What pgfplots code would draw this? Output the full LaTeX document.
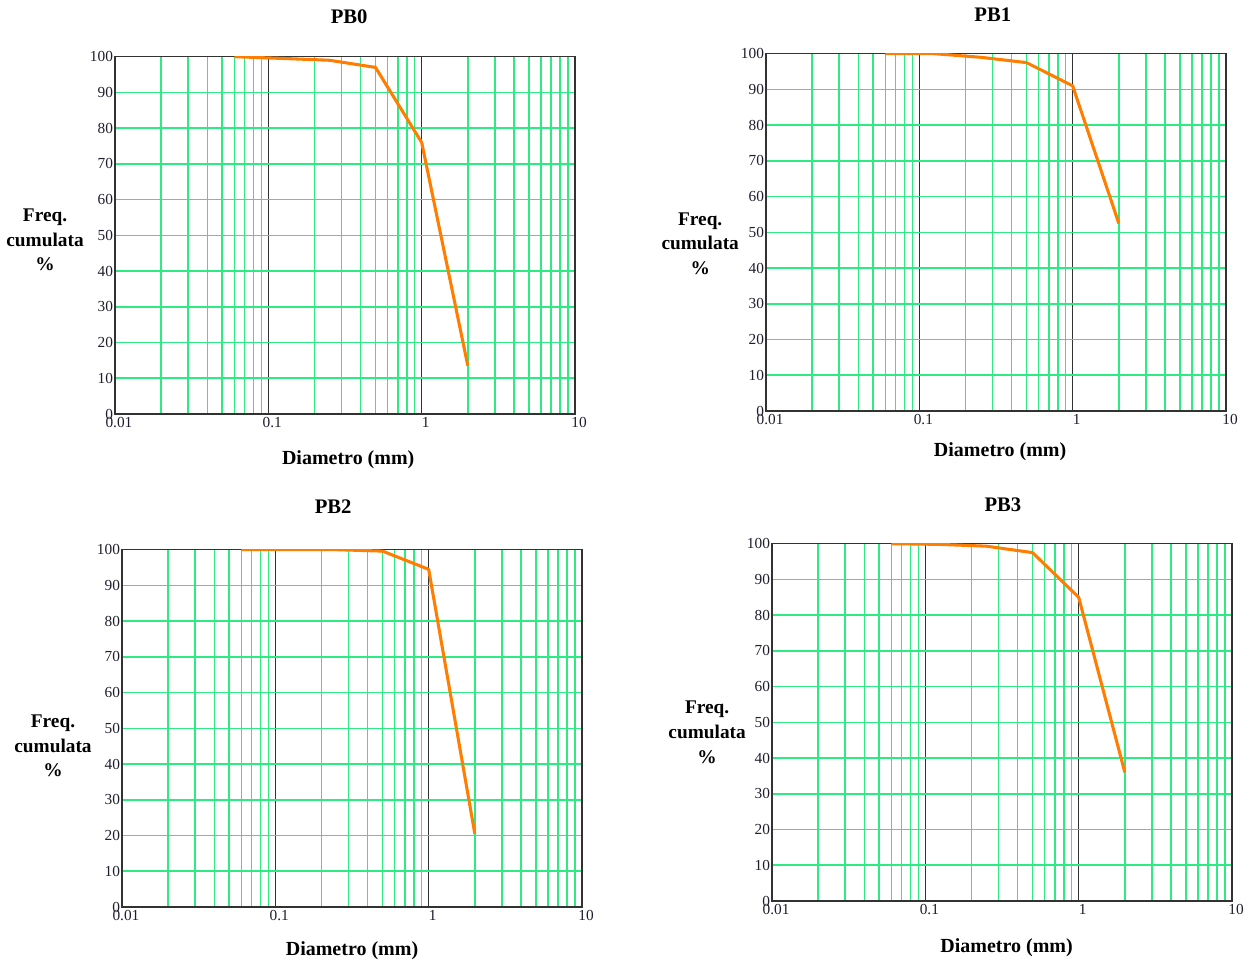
\documentclass[border=0pt]{standalone}
\usepackage{fontspec}
\setmainfont{Liberation Serif}
\usepackage{pgfplots}
\pgfplotsset{compat=1.18}
\definecolor{gridgreen}{RGB}{45,235,130}
\definecolor{curveorange}{RGB}{255,125,0}
\definecolor{boxgray}{RGB}{50,50,50}
\definecolor{ticktext}{RGB}{30,30,45}
\pgfplotsset{
  every axis/.append style={
    scale only axis,
    width=345pt, height=268pt,
    anchor=south west,
    xmin=0.01, xmax=10, ymin=0, ymax=100,
    xtick={0.01,0.1,1,10}, xticklabels={0.01,0.1,1,10},
    minor xtick={0.02,0.03,0.04,0.05,0.06,0.07,0.08,0.09,0.2,0.3,0.4,0.5,0.6,0.7,0.8,0.9,2,3,4,5,6,7,8,9},
    ytick={0,10,...,100},
    xmajorgrids, xminorgrids, ymajorgrids,
    major x grid style={boxgray, line width=1.1pt},
    minor x grid style={gridgreen, line width=1.2pt},
    major y grid style={gridgreen, line width=1.2pt},
    major tick length=0pt, minor tick length=0pt,
    axis line style={boxgray, line width=1.2pt},
    /pgf/number format/assume math mode=true,
    tick label style={font=\fontsize{11.5}{12}\selectfont, text=ticktext},
    xticklabel style={xshift=3pt, yshift=1pt},
    yticklabel style={xshift=2pt},
    title style={font=\fontsize{15.5}{17}\selectfont\bfseries, anchor=center, yshift=0pt},
    xlabel={Diametro (mm)},
    xlabel style={font=\fontsize{15}{16}\selectfont\bfseries, anchor=center},
    ylabel={Freq.\\cumulata\\\%},
    ylabel style={font=\fontsize{14.5}{18.5}\selectfont\bfseries, rotate=-90, align=center, anchor=center},
  },
}
\tikzset{gscurve/.style={curveorange, line width=2.3pt, mark=none, line join=round}}
\begin{document}
\begin{tikzpicture}
\path (0pt,0pt) rectangle (939pt,-723pt);
% PB0
\begin{semilogxaxis}[at={(86.25pt,-310.5pt)},
  title={PB0}, title style={at={(axis description cs:0.509,1.09)}, anchor=center},
  xlabel style={at={(axis description cs:0.507,-0.129)}, anchor=center},
  ylabel style={at={(axis description cs:-0.152,0.487)}}]
\addplot[gscurve] coordinates {(0.06,100) (0.125,99.5) (0.25,99) (0.5,97) (1,76) (2,13.5)};
\end{semilogxaxis}
% PB1
\begin{semilogxaxis}[at={(574.5pt,-308.25pt)},
  title={PB1}, title style={at={(axis description cs:0.493,1.087)}, anchor=center},
  xlabel style={at={(axis description cs:0.509,-0.115)}, anchor=center},
  ylabel style={at={(axis description cs:-0.143,0.468)}}]
\addplot[gscurve] coordinates {(0.06,100) (0.125,100) (0.25,99) (0.5,97.5) (1,91) (2,52.5)};
\end{semilogxaxis}
% PB2
\begin{semilogxaxis}[at={(91.5pt,-680.25pt)},
  title={PB2}, title style={at={(axis description cs:0.459,1.097)}, anchor=center},
  xlabel style={at={(axis description cs:0.5,-0.123)}, anchor=center},
  ylabel style={at={(axis description cs:-0.15,0.451)}}]
\addplot[gscurve] coordinates {(0.06,100) (0.125,100) (0.25,100) (0.5,99.6) (1,94.5) (2,20.5)};
\end{semilogxaxis}
% PB3
\begin{semilogxaxis}[at={(579pt,-675.75pt)},
  title={PB3}, title style={at={(axis description cs:0.502,1.086)}, anchor=center},
  xlabel style={at={(axis description cs:0.51,-0.131)}, anchor=center},
  ylabel style={at={(axis description cs:-0.141,0.472)}}]
\addplot[gscurve] coordinates {(0.06,100) (0.125,99.8) (0.25,99.3) (0.5,97.5) (1,85) (2,36)};
\end{semilogxaxis}
\end{tikzpicture}
\end{document}
